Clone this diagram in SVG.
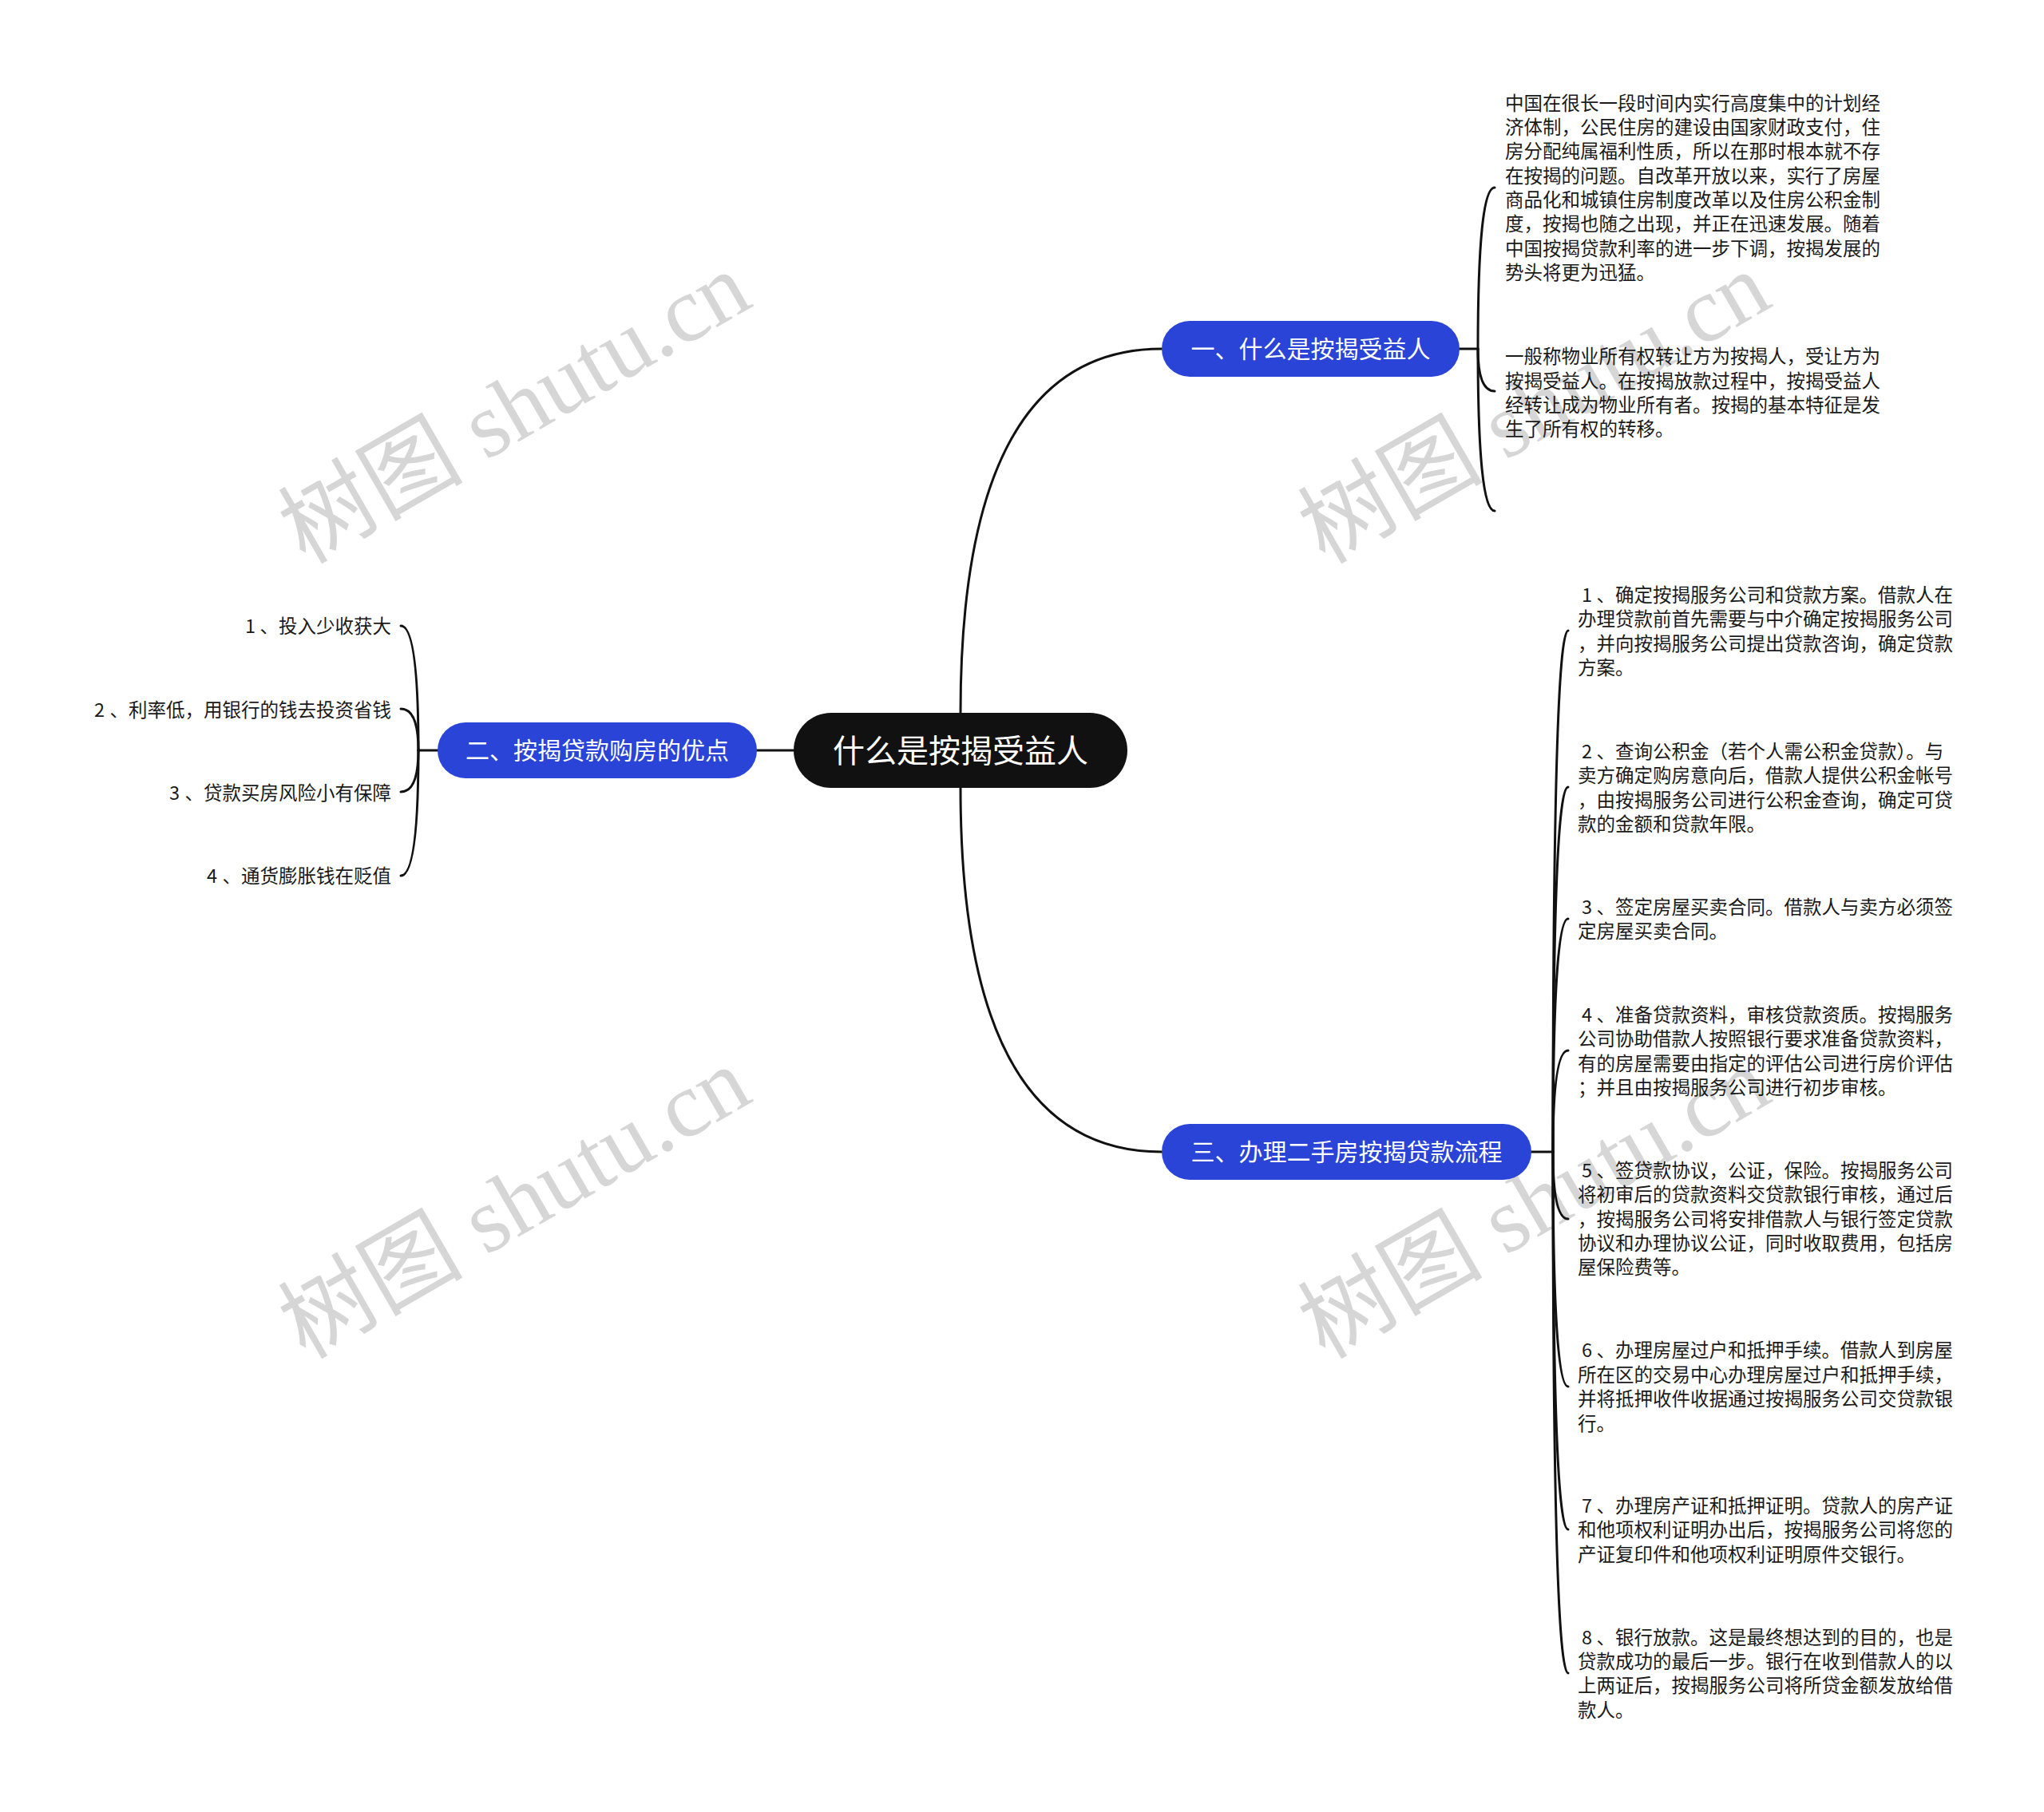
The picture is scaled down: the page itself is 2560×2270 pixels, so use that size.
<svg xmlns="http://www.w3.org/2000/svg" width="2560" height="2270" viewBox="0 0 2560 2270">
<style>
.cn{font-family:"Noto Sans CJK SC","Noto Sans",sans-serif}
.t{font-size:23.5px;fill:#1a1a1a}
.b{font-size:30px;fill:#fff;text-anchor:middle}
.r{font-size:40px;fill:#fff;text-anchor:middle}
.pill{fill:#2944d6}
.root{fill:#111}
.link{fill:none;stroke:#111;stroke-width:3;stroke-linecap:round}
.wm{font-family:"Liberation Serif","Noto Sans CJK SC",serif;font-size:116px;fill:#d6d6d6;text-anchor:middle}
</style>
<rect width="2560" height="2270" fill="#fff"/>
<g id="watermarks">
<text class="wm" x="664" y="545" transform="rotate(-30 664 545)">树图 shutu.cn</text>
<text class="wm" x="1941" y="545" transform="rotate(-30 1941 545)">树图 shutu.cn</text>
<text class="wm" x="664" y="1541" transform="rotate(-30 664 1541)">树图 shutu.cn</text>
<text class="wm" x="1941" y="1541" transform="rotate(-30 1941 1541)">树图 shutu.cn</text>
</g>
<g id="connectors">
<path class="link" d="M1203 893 Q1203 437 1455 437"/>
<path class="link" d="M1203 987 Q1203 1443 1455 1443"/>
<path class="link" d="M994 940 L948 940"/>
<path class="link" d="M1828 437 L1851 437"/>
<path class="link" d="M1851 437 Q1851 235 1872 235"/>
<path class="link" d="M1851 437 Q1851 490 1872 490"/>
<path class="link" d="M1851 437 Q1851 640 1872 640"/>
<path class="link" d="M548 940 L524 940"/>
<path class="link" d="M524 940 Q524 784 502 784"/>
<path class="link" d="M524 940 Q524 888 502 888"/>
<path class="link" d="M524 940 Q524 992 502 992"/>
<path class="link" d="M524 940 Q524 1097 502 1097"/>
<path class="link" d="M1918 1443 L1945 1443"/>
<path class="link" d="M1945 1443 Q1945 790 1964 790"/>
<path class="link" d="M1945 1443 Q1945 986 1964 986"/>
<path class="link" d="M1945 1443 Q1945 1151 1964 1151"/>
<path class="link" d="M1945 1443 Q1945 1316 1964 1316"/>
<path class="link" d="M1945 1443 Q1945 1527 1964 1527"/>
<path class="link" d="M1945 1443 Q1945 1737 1964 1737"/>
<path class="link" d="M1945 1443 Q1945 1916 1964 1916"/>
<path class="link" d="M1945 1443 Q1945 2096 1964 2096"/>
</g>
<g id="root">
<rect class="root" x="994" y="893" width="418" height="94" rx="47"/>
<text class="cn r" x="1203" y="955">什么是按揭受益人</text>
</g>
<g id="branch1">
<rect class="pill" x="1455" y="402" width="373" height="70" rx="35"/>
<text class="cn b" x="1641.5" y="448">一、什么是按揭受益人</text>
</g>
<g id="branch2">
<rect class="pill" x="548" y="905" width="400" height="70" rx="35"/>
<text class="cn b" x="748" y="951">二、按揭贷款购房的优点</text>
</g>
<g id="branch3">
<rect class="pill" x="1455" y="1408" width="463" height="70" rx="35"/>
<text class="cn b" x="1686.5" y="1454">三、办理二手房按揭贷款流程</text>
</g>
<g id="b1c1">
<text class="cn t">
<tspan x="1885" y="137.5">中国在很长一段时间内实行高度集中的计划经</tspan>
<tspan x="1885" y="167.9">济体制，公民住房的建设由国家财政支付，住</tspan>
<tspan x="1885" y="198.2">房分配纯属福利性质，所以在那时根本就不存</tspan>
<tspan x="1885" y="228.6">在按揭的问题。自改革开放以来，实行了房屋</tspan>
<tspan x="1885" y="258.9">商品化和城镇住房制度改革以及住房公积金制</tspan>
<tspan x="1885" y="289.3">度，按揭也随之出现，并正在迅速发展。随着</tspan>
<tspan x="1885" y="319.7">中国按揭贷款利率的进一步下调，按揭发展的</tspan>
<tspan x="1885" y="350">势头将更为迅猛。</tspan>
</text>
</g>
<g id="b1c2">
<text class="cn t">
<tspan x="1885" y="455.3">一般称物业所有权转让方为按揭人，受让方为</tspan>
<tspan x="1885" y="485.7">按揭受益人。在按揭放款过程中，按揭受益人</tspan>
<tspan x="1885" y="516">经转让成为物业所有者。按揭的基本特征是发</tspan>
<tspan x="1885" y="546.4">生了所有权的转移。</tspan>
</text>
</g>
<g id="b2c1"><text class="cn t"><tspan x="307" y="793">1</tspan><tspan x="325.5" y="793">、投入少收获大</tspan></text></g>
<g id="b2c2"><text class="cn t"><tspan x="118" y="897.5">2</tspan><tspan x="137.5" y="897.5">、利率低，用银行的钱去投资省钱</tspan></text></g>
<g id="b2c3"><text class="cn t"><tspan x="212" y="1001.5">3</tspan><tspan x="231.5" y="1001.5">、贷款买房风险小有保障</tspan></text></g>
<g id="b2c4"><text class="cn t"><tspan x="259" y="1106">4</tspan><tspan x="278.5" y="1106">、通货膨胀钱在贬值</tspan></text></g>
<g id="b3c1">
<text class="cn t">
<tspan x="1981" y="754">1</tspan><tspan x="1999.5" y="754">、确定按揭服务公司和贷款方案。借款人在</tspan>
<tspan x="1976" y="784.4">办理贷款前首先需要与中介确定按揭服务公司</tspan>
<tspan x="1976" y="814.7">，并向按揭服务公司提出贷款咨询，确定贷款</tspan>
<tspan x="1976" y="845.1">方案。</tspan>
</text>
</g>
<g id="b3c2">
<text class="cn t">
<tspan x="1981" y="950">2</tspan><tspan x="1999.5" y="950">、查询公积金（若个人需公积金贷款）。与</tspan>
<tspan x="1976" y="980.4">卖方确定购房意向后，借款人提供公积金帐号</tspan>
<tspan x="1976" y="1010.7">，由按揭服务公司进行公积金查询，确定可贷</tspan>
<tspan x="1976" y="1041.1">款的金额和贷款年限。</tspan>
</text>
</g>
<g id="b3c3">
<text class="cn t">
<tspan x="1981" y="1145">3</tspan><tspan x="1999.5" y="1145">、签定房屋买卖合同。借款人与卖方必须签</tspan>
<tspan x="1976" y="1175.4">定房屋买卖合同。</tspan>
</text>
</g>
<g id="b3c4">
<text class="cn t">
<tspan x="1981" y="1280">4</tspan><tspan x="1999.5" y="1280">、准备贷款资料，审核贷款资质。按揭服务</tspan>
<tspan x="1976" y="1310.4">公司协助借款人按照银行要求准备贷款资料，</tspan>
<tspan x="1976" y="1340.7">有的房屋需要由指定的评估公司进行房价评估</tspan>
<tspan x="1976" y="1371.1">；并且由按揭服务公司进行初步审核。</tspan>
</text>
</g>
<g id="b3c5">
<text class="cn t">
<tspan x="1981" y="1475">5</tspan><tspan x="1999.5" y="1475">、签贷款协议，公证，保险。按揭服务公司</tspan>
<tspan x="1976" y="1505.4">将初审后的贷款资料交贷款银行审核，通过后</tspan>
<tspan x="1976" y="1535.7">，按揭服务公司将安排借款人与银行签定贷款</tspan>
<tspan x="1976" y="1566.1">协议和办理协议公证，同时收取费用，包括房</tspan>
<tspan x="1976" y="1596.4">屋保险费等。</tspan>
</text>
</g>
<g id="b3c6">
<text class="cn t">
<tspan x="1981" y="1700.4">6</tspan><tspan x="1999.5" y="1700.4">、办理房屋过户和抵押手续。借款人到房屋</tspan>
<tspan x="1976" y="1730.8">所在区的交易中心办理房屋过户和抵押手续，</tspan>
<tspan x="1976" y="1761.1">并将抵押收件收据通过按揭服务公司交贷款银</tspan>
<tspan x="1976" y="1791.5">行。</tspan>
</text>
</g>
<g id="b3c7">
<text class="cn t">
<tspan x="1981" y="1895">7</tspan><tspan x="1999.5" y="1895">、办理房产证和抵押证明。贷款人的房产证</tspan>
<tspan x="1976" y="1925.4">和他项权利证明办出后，按揭服务公司将您的</tspan>
<tspan x="1976" y="1955.7">产证复印件和他项权利证明原件交银行。</tspan>
</text>
</g>
<g id="b3c8">
<text class="cn t">
<tspan x="1981" y="2059.5">8</tspan><tspan x="1999.5" y="2059.5">、银行放款。这是最终想达到的目的，也是</tspan>
<tspan x="1976" y="2089.9">贷款成功的最后一步。银行在收到借款人的以</tspan>
<tspan x="1976" y="2120.2">上两证后，按揭服务公司将所贷金额发放给借</tspan>
<tspan x="1976" y="2150.6">款人。</tspan>
</text>
</g>
</svg>
